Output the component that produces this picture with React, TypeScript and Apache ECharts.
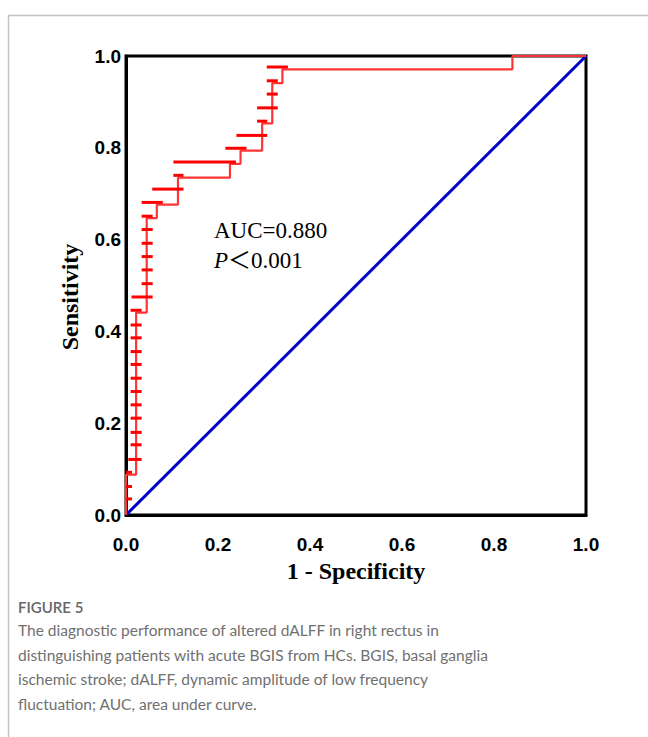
import React, { useEffect, useRef } from "react";
import * as echarts from "echarts";

// ROC step curve (1 - specificity, sensitivity), corner points
const rocFpr = [0, 0, 0.022, 0.022, 0.045, 0.045, 0.067, 0.067, 0.113, 0.113, 0.226, 0.226, 0.249, 0.249, 0.296, 0.296, 0.318, 0.318, 0.34, 0.34, 0.84, 0.84, 1];
const rocTpr = [0, 0.088, 0.088, 0.441, 0.441, 0.647, 0.647, 0.676, 0.676, 0.735, 0.735, 0.765, 0.765, 0.794, 0.794, 0.853, 0.853, 0.941, 0.941, 0.971, 0.971, 1, 1];

// horizontal red marks: start x, end x, sensitivity
const tickStart = [0, 0, 0, 0.005, 0.01, 0.01, 0.01, 0.01, 0.01, 0.01, 0.01, 0.01, 0.01, 0.01, 0.01, 0.012, 0.034, 0.034, 0.034, 0.034, 0.034, 0.034, 0.034, 0.057, 0.103, 0.103, 0.216, 0.24, 0.285, 0.285, 0.306, 0.306, 0.306];
const tickEnd = [0.013, 0.013, 0.013, 0.034, 0.034, 0.034, 0.034, 0.034, 0.034, 0.034, 0.034, 0.034, 0.034, 0.034, 0.034, 0.058, 0.058, 0.058, 0.058, 0.058, 0.058, 0.058, 0.08, 0.125, 0.125, 0.239, 0.262, 0.307, 0.307, 0.33, 0.33, 0.33, 0.352];
const tickSens = [0.035, 0.062, 0.093, 0.121, 0.153, 0.18, 0.211, 0.24, 0.269, 0.298, 0.328, 0.356, 0.386, 0.414, 0.446, 0.475, 0.504, 0.534, 0.563, 0.592, 0.622, 0.651, 0.681, 0.71, 0.74, 0.769, 0.799, 0.827, 0.858, 0.887, 0.917, 0.946, 0.976];

const diagX = [0, 1];
const diagY = [0, 1];

const axisTicks = [0, 0.2, 0.4, 0.6, 0.8, 1.0];

const captionTitle = "FIGURE 5";
const captionLines = [
  "The diagnostic performance of altered dALFF in right rectus in",
  "distinguishing patients with acute BGIS from HCs. BGIS, basal ganglia",
  "ischemic stroke; dALFF, dynamic amplitude of low frequency",
  "fluctuation; AUC, area under curve.",
];

export default function App() {
  const ref = useRef<HTMLDivElement>(null);
  useEffect(() => {
    if (!ref.current) return;
    const chart = echarts.init(ref.current, null, { renderer: "svg" });
    const rocData = rocFpr.map((x, i) => [x, rocTpr[i]]);
    const tickData = tickSens.map((y, i) => [tickStart[i], tickEnd[i], y]);
    const diagData = diagX.map((x, i) => [x, diagY[i]]);
    const labelStyle = {
      fontFamily: "Liberation Sans, Arial, sans-serif",
      fontWeight: "bold" as const,
      fontSize: 19,
      color: "#000",
      formatter: (v: number) => (axisTicks.includes(Math.round(v * 10) / 10) ? v.toFixed(1) : ""),
    };
    chart.setOption({
      animation: false,
      backgroundColor: "#fff",
      grid: {
        left: 126,
        top: 56,
        width: 460,
        height: 459,
        show: true,
        borderColor: "#000",
        borderWidth: 3,
        backgroundColor: "transparent",
      },
      xAxis: {
        type: "value",
        min: 0,
        max: 1,
        interval: 0.2,
        name: "1 - Specificity",
        nameLocation: "middle",
        nameGap: 42,
        nameTextStyle: { fontFamily: "Liberation Serif, Times New Roman, serif", fontWeight: "bold", fontSize: 24, color: "#000" },
        axisLine: { show: true, lineStyle: { color: "#000", width: 3 } },
        axisTick: { show: false },
        splitLine: { show: false },
        axisLabel: { ...labelStyle, margin: 20 },
      },
      yAxis: {
        type: "value",
        min: 0,
        max: 1,
        interval: 0.2,
        axisLine: { show: true, lineStyle: { color: "#000", width: 3 } },
        axisTick: { show: false },
        splitLine: { show: false },
        axisLabel: { ...labelStyle, margin: 5 },
      },
      series: [
        {
          type: "line",
          data: diagData,
          symbol: "none",
          lineStyle: { color: "#0000c8", width: 3 },
          z: 2,
        },
        {
          type: "line",
          data: rocData,
          symbol: "none",
          lineStyle: { color: "#ff3535", width: 2.2 },
          z: 3,
        },
        {
          type: "custom",
          data: tickData,
          z: 4,
          clip: false,
          renderItem: (params: any, api: any) => {
            const p0 = api.coord([api.value(0), api.value(2)]);
            const p1 = api.coord([api.value(1), api.value(2)]);
            return {
              type: "line",
              shape: { x1: p0[0], y1: p0[1], x2: p1[0], y2: p1[1] },
              style: { stroke: "#ff0000", lineWidth: 3 },
            };
          },
        },
      ],
      graphic: [
        {
          type: "rect",
          shape: { x: 8.5, y: 15.5, width: 700, height: 800 },
          style: { fill: "none", stroke: "#c4c4c4", lineWidth: 1.5 },
          z: -10,
        },
        {
          type: "text",
          x: 70,
          y: 297,
          rotation: Math.PI / 2,
          style: {
            text: "Sensitivity",
            font: "bold 24px 'Liberation Serif', 'Times New Roman', serif",
            fill: "#000",
            textAlign: "center",
            textVerticalAlign: "middle",
          },
        },
        {
          type: "text",
          left: 214,
          top: 219,
          style: {
            text: "AUC=0.880",
            font: "23px 'Liberation Serif', 'Times New Roman', serif",
            fill: "#000",
          },
        },
        {
          type: "text",
          left: 214,
          top: 249,
          style: {
            text: "{i|P}{n|＜0.001}",
            fill: "#000",
            rich: {
              i: { fontFamily: "Liberation Serif, serif", fontStyle: "italic", fontSize: 23, fill: "#000" },
              n: { fontFamily: "Liberation Serif, Noto Sans CJK SC, serif", fontSize: 23, fill: "#000" },
            },
          },
        },
        {
          type: "text",
          left: 18,
          top: 599,
          style: {
            text: captionTitle,
            font: "600 15px Lato, 'Open Sans', sans-serif",
            fill: "#666",
          },
        },
        ...captionLines.map((t, i) => ({
          type: "text",
          left: 18,
          top: 622 + i * 24.6,
          style: {
            text: t,
            font: "400 15.5px Lato, 'Open Sans', sans-serif",
            fill: "#707070",
          },
        })),
      ],
    });
    return () => chart.dispose();
  }, []);
  return <div ref={ref} style={{ position: "fixed", left: 0, top: 0, width: 648, height: 737 }} />;
}
